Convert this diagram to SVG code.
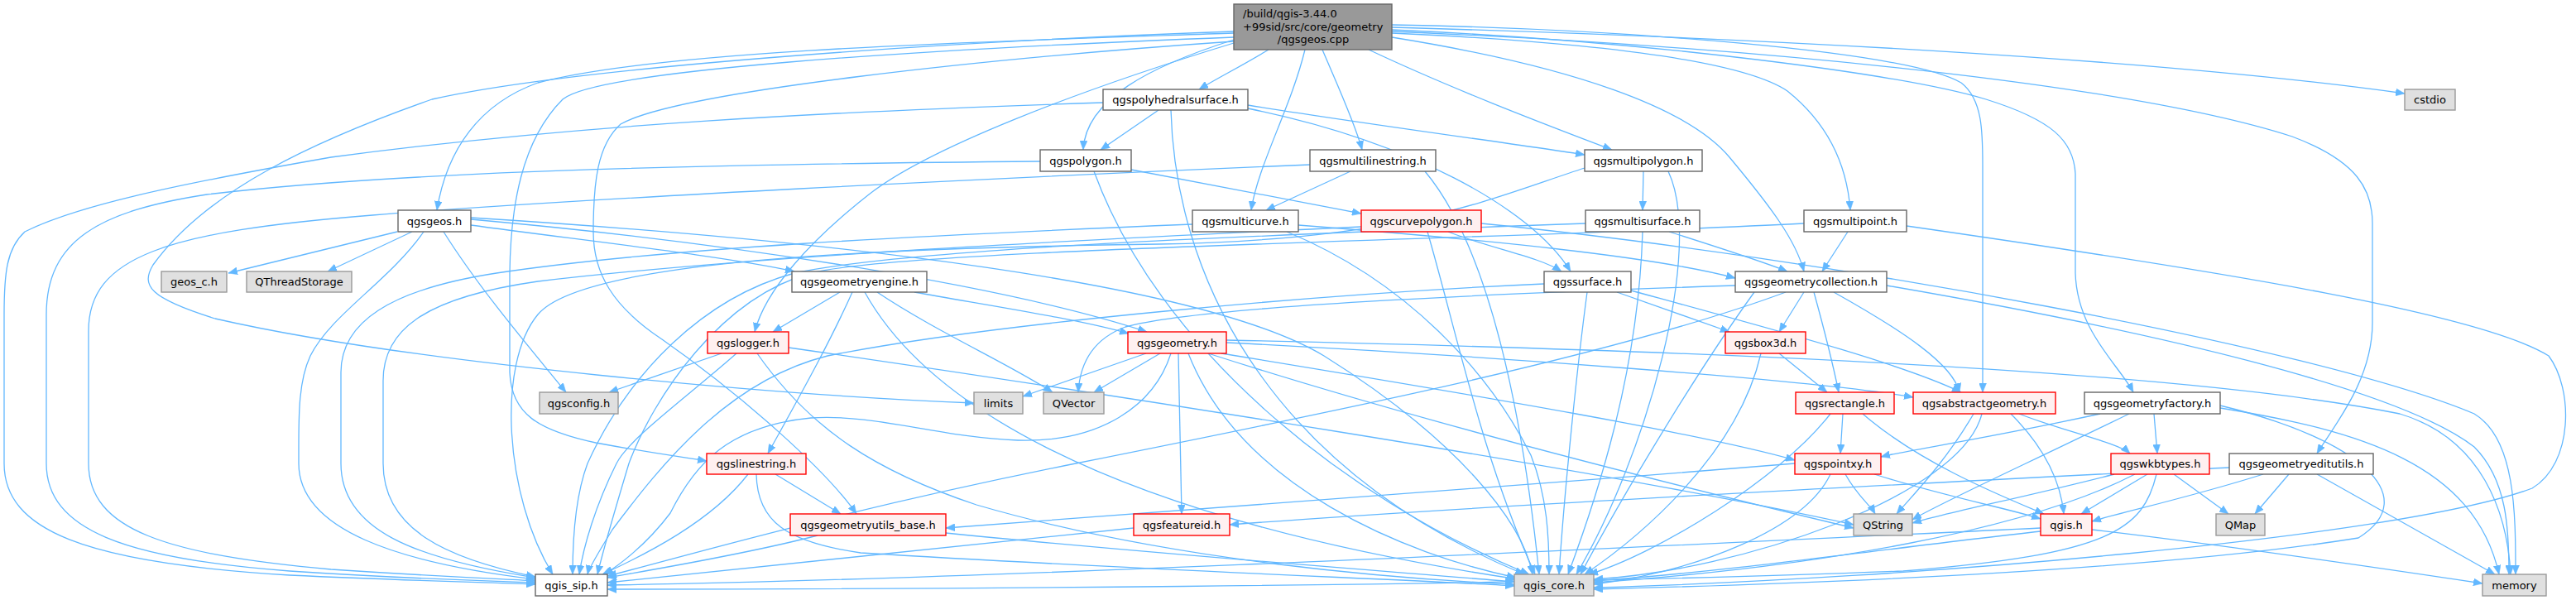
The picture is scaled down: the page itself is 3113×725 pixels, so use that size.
<svg xmlns="http://www.w3.org/2000/svg" width="3113" height="725" viewBox="0 0 3113 725">
<style>
.e{fill:none;stroke:#63b8ff;stroke-width:1.3;marker-end:url(#ah)}
.n rect{stroke-width:1.4}
.w rect{fill:#ffffff;stroke:#666666}
.g rect{fill:#e0e0e0;stroke:#999999}
.r rect{fill:#fff0f0;stroke:#ff0000}
.rt rect{fill:#999999;stroke:#666666}
text{font-family:"DejaVu Sans","Liberation Sans",sans-serif;font-size:13px;fill:#000000;text-anchor:middle}
.l{text-anchor:start}
</style>
<defs>
<marker id="ah" markerUnits="userSpaceOnUse" markerWidth="11" markerHeight="9" refX="11" refY="4.5" orient="auto">
<path d="M0,0 L11,4.5 L0,9 z" fill="#63b8ff" stroke="#63b8ff" stroke-width="0.5"/>
</marker>
</defs>
<rect width="3113" height="725" fill="#ffffff"/>
<g id="edges">
<path class="e" d="M1491,40 C1200,50 800,60 650,100 C580,125 540,180 528,254"/>
<path class="e" d="M1491,38 C1150,50 700,80 522,120 C380,170 250,230 185,320 C170,345 180,360 260,385 C500,440 950,478 1177,487"/>
<path class="e" d="M1491,45 C1100,60 720,85 680,120 C630,170 617,250 616,330 L616,450 C618,500 650,520 720,535 C790,548 830,553 854,557"/>
<path class="e" d="M1491,50 C1200,70 820,110 750,150 C722,175 717,220 717,280 C717,330 740,370 800,410 C900,480 1000,570 1035,621"/>
<path class="e" d="M1491,52 C1300,110 1120,180 1050,235 C980,290 925,350 912,401"/>
<path class="e" d="M1491,48 C1390,80 1312,120 1309,181"/>
<path class="e" d="M1533,60 C1500,80 1470,95 1449,108"/>
<path class="e" d="M1577,60 C1560,130 1520,200 1512,254"/>
<path class="e" d="M1598,60 C1615,100 1638,150 1646,181"/>
<path class="e" d="M1654,60 C1760,110 1880,155 1948,181"/>
<path class="e" d="M1682,33 C2100,45 2600,70 2906,113"/>
<path class="e" d="M1682,40 C1900,50 2100,70 2160,110 C2210,150 2232,200 2236,254"/>
<path class="e" d="M1682,45 C1900,80 2040,130 2090,190 C2140,250 2170,290 2180,328"/>
<path class="e" d="M1682,30 C1950,35 2300,60 2370,100 C2396,120 2396,160 2396,200 L2396,474"/>
<path class="e" d="M1682,36 C2000,50 2300,90 2400,120 C2480,145 2506,170 2508,210 L2508,330 C2510,400 2560,440 2578,474"/>
<path class="e" d="M1682,38 C2200,60 2600,110 2770,165 C2850,195 2867,230 2867,270 L2867,390 C2867,460 2820,515 2800,548"/>
<path class="e" d="M480,280 L276,330"/>
<path class="e" d="M498,280 L396,328"/>
<path class="e" d="M512,280 C470,340 400,380 375,430 C361,460 361,500 361,540 L361,560 C361,640 480,680 647,700"/>
<path class="e" d="M536,280 C580,350 640,420 684,474"/>
<path class="e" d="M569,272 C700,290 880,310 960,328"/>
<path class="e" d="M569,265 C850,290 1200,340 1386,401"/>
<path class="e" d="M569,263 C1000,290 1450,340 1600,430 C1760,530 1840,630 1852,694"/>
<path class="e" d="M1015,353 L934,401"/>
<path class="e" d="M1030,353 C1000,420 960,490 928,548"/>
<path class="e" d="M1045,353 C1110,470 1300,620 1835,700"/>
<path class="e" d="M1060,353 C1130,400 1220,440 1272,474"/>
<path class="e" d="M1105,353 C1200,370 1300,385 1364,403"/>
<path class="e" d="M872,427 L736,474"/>
<path class="e" d="M890,427 C830,480 760,530 745,560 C720,610 705,660 700,694"/>
<path class="e" d="M915,427 C980,520 1060,570 1180,610 C1420,680 1700,700 1830,706"/>
<path class="e" d="M953,420 C1300,470 1950,570 2240,634"/>
<path class="e" d="M1385,427 L1236,479"/>
<path class="e" d="M1402,427 L1322,474"/>
<path class="e" d="M1415,427 C1395,490 1330,535 1230,532 C1130,528 1060,500 980,505 C880,515 840,560 810,620 C780,660 745,685 730,694"/>
<path class="e" d="M1424,427 L1428,621"/>
<path class="e" d="M1436,427 C1500,590 1700,670 1832,698"/>
<path class="e" d="M1482,414 C1800,430 2200,460 2312,480"/>
<path class="e" d="M1482,411 C1900,420 2600,440 2900,500 C3000,530 3030,620 3034,694"/>
<path class="e" d="M1476,427 C1800,480 2060,525 2169,556"/>
<path class="e" d="M1460,427 C1750,520 2080,600 2240,638"/>
<path class="e" d="M1370,638 C1100,665 850,690 734,704"/>
<path class="e" d="M988,647 C900,670 790,688 734,698"/>
<path class="e" d="M1143,644 C1400,670 1700,692 1830,703"/>
<path class="e" d="M904,573 C860,630 780,670 728,694"/>
<path class="e" d="M914,573 C915,630 950,655 1040,668 C1400,690 1700,700 1830,708"/>
<path class="e" d="M937,573 L1016,621"/>
<path class="e" d="M1333,124 C1000,135 700,150 400,190 C200,225 90,250 30,280 C8,300 5,330 5,380 L5,560 C5,640 100,680 350,695 C500,702 600,704 647,706"/>
<path class="e" d="M1400,133 L1330,181"/>
<path class="e" d="M1415,133 C1420,320 1520,560 1842,694"/>
<path class="e" d="M1508,127 C1650,150 1840,175 1915,187"/>
<path class="e" d="M1508,131 C1700,170 1850,250 1898,328"/>
<path class="e" d="M1257,195 C900,198 500,205 250,235 C120,255 56,290 56,380 L56,560 C56,640 150,675 350,690 C500,700 600,702 647,704"/>
<path class="e" d="M1322,207 C1400,420 1620,600 1848,694"/>
<path class="e" d="M1367,205 L1645,258"/>
<path class="e" d="M1583,199 C1200,215 700,240 450,260 C200,280 107,310 107,400 L107,560 C107,640 200,670 400,688 C550,698 620,700 647,702"/>
<path class="e" d="M1632,207 L1530,254"/>
<path class="e" d="M1722,207 C1800,300 1840,500 1860,694"/>
<path class="e" d="M1915,203 C1800,240 1700,290 1400,295 C1000,300 700,320 650,380 C600,440 610,600 668,694"/>
<path class="e" d="M1986,207 L1985,254"/>
<path class="e" d="M2016,207 C2060,300 1990,550 1905,694"/>
<path class="e" d="M1441,271 C1100,285 800,300 600,330 C470,350 412,390 412,450 L412,560 C412,640 500,675 647,698"/>
<path class="e" d="M1569,272 C1800,290 2000,310 2097,336"/>
<path class="e" d="M1555,280 C1700,340 1800,450 1850,550 C1870,600 1872,650 1872,694"/>
<path class="e" d="M1645,274 C1300,290 900,310 650,340 C510,360 463,400 463,460 L463,560 C463,640 540,675 647,697"/>
<path class="e" d="M1725,280 C1760,400 1790,550 1855,694"/>
<path class="e" d="M1750,280 C1800,300 1860,310 1887,328"/>
<path class="e" d="M1790,270 C2200,310 2800,420 2990,500 C3040,530 3040,620 3040,694"/>
<path class="e" d="M1916,270 C1500,285 1100,300 960,330 C850,360 760,450 710,560 C695,600 692,650 692,694"/>
<path class="e" d="M1985,280 C1980,450 1930,600 1895,694"/>
<path class="e" d="M2017,280 C2080,300 2140,320 2160,328"/>
<path class="e" d="M2180,270 C1800,290 1100,300 980,330 C870,360 790,480 760,560 C745,610 730,660 722,694"/>
<path class="e" d="M2233,280 L2202,328"/>
<path class="e" d="M2304,273 C2700,330 3000,380 3080,430 C3110,470 3110,560 3060,590 C2900,650 2300,700 1926,710"/>
<path class="e" d="M1866,343 C1600,355 1200,390 1000,430 C880,460 800,560 740,640 C725,665 712,685 710,694"/>
<path class="e" d="M1918,353 C1905,450 1890,600 1884,694"/>
<path class="e" d="M1954,353 L2090,401"/>
<path class="e" d="M1971,351 C2150,400 2300,440 2370,474"/>
<path class="e" d="M2097,345 C1800,355 1450,370 1360,395 C1320,410 1305,440 1303,474"/>
<path class="e" d="M2158,353 C1950,430 1600,500 1300,560 C1000,620 800,680 734,696"/>
<path class="e" d="M2180,353 L2150,401"/>
<path class="e" d="M2192,353 C2205,400 2215,440 2222,474"/>
<path class="e" d="M2216,353 C2300,400 2360,440 2368,474"/>
<path class="e" d="M2280,345 C2600,400 2900,470 2990,540 C3030,580 3032,640 3032,694"/>
<path class="e" d="M2120,353 C2050,450 1960,600 1910,694"/>
<path class="e" d="M2128,427 C2100,550 1980,650 1915,694"/>
<path class="e" d="M2150,427 L2208,474"/>
<path class="e" d="M2212,500 C2150,580 2000,670 1920,694"/>
<path class="e" d="M2227,500 L2224,548"/>
<path class="e" d="M2251,500 C2320,560 2420,600 2470,621"/>
<path class="e" d="M2385,500 C2350,560 2310,600 2292,621"/>
<path class="e" d="M2395,500 C2370,600 2100,690 1926,700"/>
<path class="e" d="M2430,500 C2470,540 2490,580 2494,621"/>
<path class="e" d="M2440,500 C2490,520 2560,535 2574,548"/>
<path class="e" d="M2538,500 C2400,530 2300,545 2273,552"/>
<path class="e" d="M2573,500 C2450,560 2340,610 2311,628"/>
<path class="e" d="M2603,500 L2607,548"/>
<path class="e" d="M2683,493 C2850,520 2990,560 3020,694"/>
<path class="e" d="M2683,490 C2850,530 2930,600 2850,650 C2600,690 2200,705 1926,712"/>
<path class="e" d="M2169,560 C1800,590 1400,620 1143,638"/>
<path class="e" d="M2230,573 C2245,600 2260,610 2266,621"/>
<path class="e" d="M2265,573 C2350,600 2430,615 2466,627"/>
<path class="e" d="M2212,573 C2180,640 2050,690 1926,706"/>
<path class="e" d="M2555,573 C2450,600 2350,620 2311,632"/>
<path class="e" d="M2580,573 C2450,640 2200,685 1926,704"/>
<path class="e" d="M2595,573 L2515,621"/>
<path class="e" d="M2606,573 C2590,640 2550,670 2300,690 C1800,710 1000,712 734,712"/>
<path class="e" d="M2627,573 L2693,621"/>
<path class="e" d="M2694,565 C2400,580 1800,610 1486,634"/>
<path class="e" d="M2735,573 C2650,600 2560,620 2528,630"/>
<path class="e" d="M2766,573 L2725,621"/>
<path class="e" d="M2800,573 L3015,694"/>
<path class="e" d="M2466,638 C2000,660 1200,700 734,707"/>
<path class="e" d="M2466,642 C2300,660 2100,690 1926,702"/>
<path class="e" d="M2528,640 C2700,660 2900,690 3000,705"/>
</g>
<g id="nodes">
<g id="node-root" class="n rt"><rect x="1491" y="5" width="191" height="55"/><text class="l" x="1502" y="21">/build/qgis-3.44.0</text><text class="l" x="1502" y="37">+99sid/src/core/geometry</text><text x="1587" y="52">/qgsgeos.cpp</text></g>
<g id="node-qgsgeos" class="n w"><rect x="481" y="254" width="88" height="26"/><text x="525" y="271.5">qgsgeos.h</text></g>
<g id="node-geos_c" class="n g"><rect x="195" y="328" width="79" height="25"/><text x="234.5" y="345">geos_c.h</text></g>
<g id="node-qthreadstorage" class="n g"><rect x="298" y="328" width="127" height="25"/><text x="361.5" y="345">QThreadStorage</text></g>
<g id="node-qgsgeometryengine" class="n w"><rect x="957" y="328" width="163" height="25"/><text x="1038.5" y="345">qgsgeometryengine.h</text></g>
<g id="node-qgspolyhedralsurface" class="n w"><rect x="1333" y="108" width="175" height="25"/><text x="1420.5" y="125">qgspolyhedralsurface.h</text></g>
<g id="node-qgspolygon" class="n w"><rect x="1257" y="181" width="110" height="26"/><text x="1312" y="198.5">qgspolygon.h</text></g>
<g id="node-qgsmultilinestring" class="n w"><rect x="1583" y="181" width="152" height="26"/><text x="1659" y="198.5">qgsmultilinestring.h</text></g>
<g id="node-qgsmultipolygon" class="n w"><rect x="1915" y="181" width="142" height="26"/><text x="1986" y="198.5">qgsmultipolygon.h</text></g>
<g id="node-qgsmulticurve" class="n w"><rect x="1441" y="254" width="128" height="26"/><text x="1505" y="271.5">qgsmulticurve.h</text></g>
<g id="node-qgscurvepolygon" class="n r"><rect x="1645" y="254" width="145" height="26"/><text x="1717.5" y="271.5">qgscurvepolygon.h</text></g>
<g id="node-qgsmultisurface" class="n w"><rect x="1916" y="254" width="138" height="26"/><text x="1985" y="271.5">qgsmultisurface.h</text></g>
<g id="node-qgsmultipoint" class="n w"><rect x="2180" y="254" width="124" height="26"/><text x="2242" y="271.5">qgsmultipoint.h</text></g>
<g id="node-qgssurface" class="n w"><rect x="1866" y="328" width="105" height="25"/><text x="1918.5" y="345">qgssurface.h</text></g>
<g id="node-qgsgeometrycollection" class="n w"><rect x="2097" y="328" width="183" height="25"/><text x="2188.5" y="345">qgsgeometrycollection.h</text></g>
<g id="node-cstdio" class="n g"><rect x="2906" y="108" width="61" height="25"/><text x="2936.5" y="125">cstdio</text></g>
<g id="node-qgslogger" class="n r"><rect x="855" y="401" width="98" height="26"/><text x="904" y="418.5">qgslogger.h</text></g>
<g id="node-qgsgeometry" class="n r"><rect x="1363" y="401" width="119" height="26"/><text x="1422.5" y="418.5">qgsgeometry.h</text></g>
<g id="node-qgsbox3d" class="n r"><rect x="2085" y="401" width="97" height="26"/><text x="2133.5" y="418.5">qgsbox3d.h</text></g>
<g id="node-qgsconfig" class="n g"><rect x="652" y="474" width="95" height="26"/><text x="699.5" y="491.5">qgsconfig.h</text></g>
<g id="node-limits" class="n g"><rect x="1177" y="474" width="59" height="26"/><text x="1206.5" y="491.5">limits</text></g>
<g id="node-qvector" class="n g"><rect x="1261" y="474" width="73" height="26"/><text x="1297.5" y="491.5">QVector</text></g>
<g id="node-qgsrectangle" class="n r"><rect x="2170" y="474" width="119" height="26"/><text x="2229.5" y="491.5">qgsrectangle.h</text></g>
<g id="node-qgsabstractgeometry" class="n r"><rect x="2312" y="474" width="172" height="26"/><text x="2398" y="491.5">qgsabstractgeometry.h</text></g>
<g id="node-qgsgeometryfactory" class="n w"><rect x="2519" y="474" width="164" height="26"/><text x="2601" y="491.5">qgsgeometryfactory.h</text></g>
<g id="node-qgslinestring" class="n r"><rect x="854" y="548" width="120" height="25"/><text x="914" y="565">qgslinestring.h</text></g>
<g id="node-qgspointxy" class="n r"><rect x="2169" y="548" width="104" height="25"/><text x="2221" y="565">qgspointxy.h</text></g>
<g id="node-qgswkbtypes" class="n r"><rect x="2551" y="548" width="119" height="25"/><text x="2610.5" y="565">qgswkbtypes.h</text></g>
<g id="node-qgsgeometryeditutils" class="n w"><rect x="2694" y="548" width="174" height="25"/><text x="2781" y="565">qgsgeometryeditutils.h</text></g>
<g id="node-qgsgeometryutils_base" class="n r"><rect x="955" y="621" width="188" height="26"/><text x="1049" y="638.5">qgsgeometryutils_base.h</text></g>
<g id="node-qgsfeatureid" class="n r"><rect x="1370" y="621" width="116" height="26"/><text x="1428" y="638.5">qgsfeatureid.h</text></g>
<g id="node-qstring" class="n g"><rect x="2240" y="621" width="71" height="26"/><text x="2275.5" y="638.5">QString</text></g>
<g id="node-qgis" class="n r"><rect x="2466" y="621" width="62" height="26"/><text x="2497" y="638.5">qgis.h</text></g>
<g id="node-qmap" class="n g"><rect x="2678" y="621" width="59" height="26"/><text x="2707.5" y="638.5">QMap</text></g>
<g id="node-qgis_sip" class="n w"><rect x="647" y="694" width="87" height="26"/><text x="690.5" y="711.5">qgis_sip.h</text></g>
<g id="node-qgis_core" class="n g"><rect x="1830" y="694" width="96" height="26"/><text x="1878" y="711.5">qgis_core.h</text></g>
<g id="node-memory" class="n g"><rect x="3000" y="694" width="77" height="26"/><text x="3038.5" y="711.5">memory</text></g>
</g>
</svg>
